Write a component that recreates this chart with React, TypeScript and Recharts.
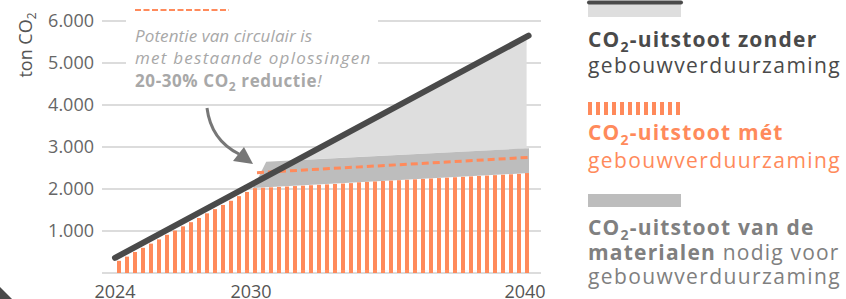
import React from 'react';
import { ComposedChart, Bar, Line, Area, XAxis, YAxis, CartesianGrid } from 'recharts';

const FONT = '"Open Sans", sans-serif';
const ORANGE = '#ff8a5b';
const DARK = '#4a4a4a';
const LIGHT = '#dedede';
const BAND = '#bdbdbd';
const GRID = '#dcdcdc';

// CO2 emissions with building renovation (orange bars), one value per time step
const metValues = [
  290, 390, 500, 600, 700, 800, 910, 1010, 1110, 1210, 1310, 1420, 1520, 1620, 1720, 1830, 1930,
  2020, 2030, 2040, 2050, 2060, 2070, 2080, 2090, 2100, 2110, 2120, 2130, 2140, 2160, 2170, 2180,
  2190, 2200, 2210, 2220, 2230, 2240, 2250, 2260, 2270, 2280, 2290, 2300, 2310, 2320, 2330, 2340,
  2350, 2360, 2380,
];

// CO2 emissions without renovation (straight dark line)
const zonderSteps = [-0.5, 51.2];
const zonderValues = [360, 5650];

// CO2 of materials needed (grey band on top of bars): [low, high]
const materialenSteps = [16.75, 18.4, 51.25];
const materialenLow = [2020, 2040, 2380];
const materialenHigh = [2020, 2650, 2970];

// light grey gap between materials band and "zonder" line
const gapSteps = [22.25, 50.95];
const gapLow = [2690, 2965];
const gapHigh = [2690, 5630];

// circular potential (orange dashed)
const circulairSteps = [17.25, 51.4];
const circulairValues = [2388, 2755];

const yTicks = [0, 1000, 2000, 3000, 4000, 5000, 6000];
const yTickLabels = ['', '1.000', '2.000', '3.000', '4.000', '5.000', '6.000'];
const xTicks = [-0.5, 16.5, 50.75];
const xTickLabels = ['2024', '2030', '2040'];

const barData = metValues.map((v, i) => ({ i, met: v }));
const zonderData = zonderSteps.map((s, k) => ({ i: s, v: zonderValues[k] }));
const materialenData = materialenSteps.map((s, k) => ({ i: s, r: [materialenLow[k], materialenHigh[k]] }));
const gapData = gapSteps.map((s, k) => ({ i: s, r: [gapLow[k], gapHigh[k]] }));
const circulairData = circulairSteps.map((s, k) => ({ i: s, v: circulairValues[k] }));

const legendStripes = Array.from({ length: 12 }, (_, k) => k);

const BarShape = (props: any) => {
  const { x, y, width, height } = props;
  if (height == null || isNaN(height)) return null;
  const cx = x + width / 2;
  return <rect x={cx - 2} y={y} width={4} height={height} fill={ORANGE} />;
};

const LS = 1.2;

export default function App() {
  return (
    <div style={{ position: 'absolute', left: 0, top: 0, width: 846, height: 299, background: '#fff', overflow: 'hidden' }}>
      <div style={{ position: 'absolute', left: 0, top: 0 }}>
        <ComposedChart width={846} height={299} data={barData} margin={{ top: 21, right: 305, bottom: 0, left: 0 }}>
          <CartesianGrid vertical={false} stroke={GRID} strokeWidth={2} />
          <XAxis
            type="number"
            dataKey="i"
            domain={[-2.125, 52.75]}
            allowDataOverflow
            ticks={xTicks}
            tickFormatter={(v: number) => xTickLabels[xTicks.indexOf(v)] ?? ''}
            axisLine={false}
            tickLine={false}
            tickSize={0}
            tickMargin={12}
            height={26}
            tick={{ fill: '#555', fontSize: 18, fontFamily: FONT }}
          />
          <YAxis
            type="number"
            domain={[0, 6000]}
            ticks={yTicks}
            tickFormatter={(v: number) => yTickLabels[yTicks.indexOf(v)] ?? ''}
            axisLine={false}
            tickLine={false}
            tickSize={0}
            tickMargin={8}
            width={102}
            tick={{ fill: '#666', fontSize: 18, fontFamily: FONT }}
          />
          <Area data={gapData} dataKey="r" type="linear" fill={LIGHT} fillOpacity={1} stroke="none" isAnimationActive={false} />
          <Area data={materialenData} dataKey="r" type="linear" fill={BAND} fillOpacity={1} stroke="none" isAnimationActive={false} />
          <Bar dataKey="met" fill={ORANGE} shape={BarShape} isAnimationActive={false} />
          <Line data={circulairData} dataKey="v" type="linear" stroke={ORANGE} strokeWidth={3} strokeDasharray="7 4" dot={false} isAnimationActive={false} />
          <Line data={zonderData} dataKey="v" type="linear" stroke={DARK} strokeWidth={6} strokeLinecap="round" dot={false} isAnimationActive={false} />
        </ComposedChart>
      </div>
      <svg width={846} height={299} style={{ position: 'absolute', left: 0, top: 0, pointerEvents: 'none' }} fontFamily={FONT}>
        {/* annotation */}
        <rect x={126} y={0} width={252} height={95} fill="#fff" />
        <line x1={135} x2={229} y1={10} y2={10} stroke={ORANGE} strokeWidth={2} strokeDasharray="6 2.5" />
        <text x={135} y={42} fontSize={17} fontStyle="italic" fill="#a8a8a8" letterSpacing={0.1}>Potentie van circulair is</text>
        <text x={135} y={64} fontSize={17} fontStyle="italic" fill="#a8a8a8" letterSpacing={1.25}>met bestaande oplossingen</text>
        <text x={135} y={87} fontSize={17} fill="#a8a8a8" letterSpacing={0.6}>
          <tspan fontWeight={700}>20-30% CO</tspan>
          <tspan fontWeight={700} fontSize={12} dy={4}>2</tspan>
          <tspan fontWeight={700} dy={-4}> reductie</tspan>
          <tspan fontStyle="italic">!</tspan>
        </text>
        <path d="M207,108 Q211,140 239,154" fill="none" stroke="#777" strokeWidth={3} />
        <polygon points="244,147 233,161 253,164" fill="#777" />
        {/* y axis title */}
        <text transform="translate(32,45) rotate(-90)" textAnchor="middle" fontSize={18} fill="#555">
          <tspan>ton CO</tspan>
          <tspan fontSize={12} dy={4}>2</tspan>
        </text>
        {/* corner decoration */}
        <polygon points="0,287 12,299 0,299" fill={DARK} />
        {/* legend */}
        <rect x={588} y={4} width={93} height={13} fill={LIGHT} />
        <line x1={589} x2={681} y1={2.5} y2={2.5} stroke={DARK} strokeWidth={4} strokeLinecap="round" />
        <text x={588} y={47} fontSize={21} fill={DARK} letterSpacing={LS}>
          <tspan fontWeight={700}>CO</tspan>
          <tspan fontWeight={700} fontSize={14} dy={5}>2</tspan>
          <tspan fontWeight={700} dy={-5}>-uitstoot zonder</tspan>
        </text>
        <text x={588} y={73} fontSize={21} fill={DARK} letterSpacing={LS + 0.2}>gebouwverduurzaming</text>

        {legendStripes.map((k) => (
          <rect key={k} x={588 + k * 8} y={102} width={4} height={13} fill={ORANGE} />
        ))}
        <text x={588} y={140} fontSize={21} fill={ORANGE} letterSpacing={LS}>
          <tspan fontWeight={700}>CO</tspan>
          <tspan fontWeight={700} fontSize={14} dy={5}>2</tspan>
          <tspan fontWeight={700} dy={-5}>-uitstoot mét</tspan>
        </text>
        <text x={588} y={168} fontSize={21} fill={ORANGE} letterSpacing={LS + 0.2}>gebouwverduurzaming</text>

        <rect x={588} y={194} width={93} height={13} fill={BAND} />
        <text x={588} y={235} fontSize={21} fill="#808080" letterSpacing={LS}>
          <tspan fontWeight={700}>CO</tspan>
          <tspan fontWeight={700} fontSize={14} dy={5}>2</tspan>
          <tspan fontWeight={700} dy={-5}>-uitstoot van de</tspan>
        </text>
        <text x={588} y={260} fontSize={21} fill="#808080" letterSpacing={LS}>
          <tspan fontWeight={700}>materialen</tspan>
          <tspan> nodig voor</tspan>
        </text>
        <text x={588} y={284} fontSize={21} fill="#808080" letterSpacing={LS + 0.2}>gebouwverduurzaming</text>
      </svg>
    </div>
  );
}
